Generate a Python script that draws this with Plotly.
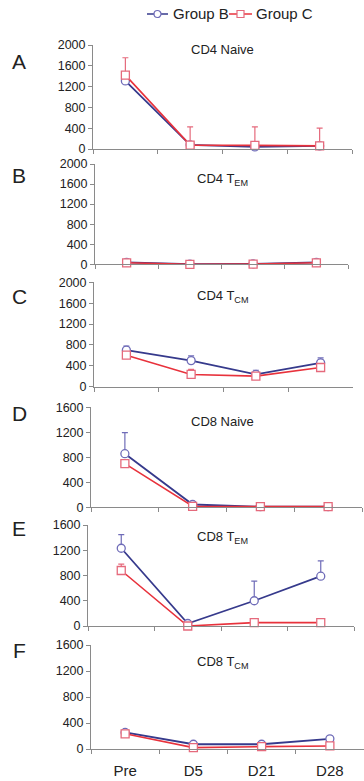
import plotly.graph_objects as go

W, H = 364, 781

categories = ["Pre", "D5", "D21", "D28"]

panel_letters = ["A", "B", "C", "D", "E", "F"]
panel_titles = ["CD4 Naive", "CD4 T<sub>EM</sub>", "CD4 T<sub>CM</sub>",
                "CD8 Naive", "CD8 T<sub>EM</sub>", "CD8 T<sub>CM</sub>"]
y_max = [2000, 2000, 2000, 1600, 1600, 1600]

group_b = [
    [1310, 80, 40, 60],
    [40, 5, 10, 40],
    [700, 500, 235, 457],
    [858, 45, 10, 10],
    [1232, 40, 400, 789],
    [255, 73, 73, 156],
]
group_b_err = [
    [0, 0, 0, 0],
    [0, 0, 0, 0],
    [80, 90, 80, 95],
    [337, 0, 0, 0],
    [215, 0, 310, 242],
    [0, 0, 0, 0],
]
group_c = [
    [1420, 75, 70, 60],
    [30, 0, 5, 30],
    [603, 235, 203, 368],
    [699, 16, 10, 10],
    [879, 0, 53, 53],
    [234, 21, 36, 47],
]
group_c_err = [
    [335, 350, 355, 340],
    [0, 0, 0, 0],
    [0, 95, 0, 0],
    [0, 0, 0, 0],
    [100, 0, 0, 0],
    [0, 0, 0, 0],
]

# layout geometry (pixels): x-left, x-right, y of zero, y of top
geom = [
    (93, 352, 149, 45),
    (95, 348, 264.3, 164),
    (94, 353, 386.7, 282.3),
    (91, 362, 507.3, 407.3),
    (88, 354, 626, 525),
    (91, 364, 749, 645),
]
letter_y = [62, 175, 297, 413, 528, 650]
title_y = [50, 179, 297, 422, 537, 662]

BLUE_LINE = "#363a8c"
BLUE_MK = "#6f6cb8"
RED_LINE = "#e8323c"
RED_MK = "#e56a7c"
AX = "#8a8a8a"
FONT = "Liberation Sans, Arial, sans-serif"

fig = go.Figure()
annotations = []
shapes = []

for i in range(6):
    xa = "x" if i == 0 else f"x{i+1}"
    ya = "y" if i == 0 else f"y{i+1}"
    fig.add_trace(go.Scatter(
        x=categories, y=group_b[i], xaxis=xa, yaxis=ya,
        mode="lines+markers", name="Group B", showlegend=False,
        line=dict(color=BLUE_LINE, width=1.8),
        marker=dict(symbol="circle", size=8, color="white",
                    line=dict(color=BLUE_MK, width=1.3)),
        error_y=dict(type="data", array=group_b_err[i],
                     arrayminus=[0] * 4, symmetric=False,
                     color=BLUE_MK, thickness=1.2, width=3,
                     visible=True),
        cliponaxis=False,
    ))
    fig.add_trace(go.Scatter(
        x=categories, y=group_c[i], xaxis=xa, yaxis=ya,
        mode="lines+markers", name="Group C", showlegend=False,
        line=dict(color=RED_LINE, width=1.6),
        marker=dict(symbol="square", size=8, color="white",
                    line=dict(color=RED_MK, width=1.3)),
        error_y=dict(type="data", array=group_c_err[i],
                     arrayminus=[0] * 4, symmetric=False,
                     color=RED_MK, thickness=1.2, width=3,
                     visible=True),
        cliponaxis=False,
    ))

    x0, x1, yz, yt = geom[i]
    xdom = [x0 / W, x1 / W]
    ydom = [1 - yz / H, 1 - yt / H]
    xkey = "xaxis" if i == 0 else f"xaxis{i+1}"
    ykey = "yaxis" if i == 0 else f"yaxis{i+1}"
    fig.update_layout(**{
        xkey: dict(domain=xdom, anchor=ya, type="category",
                   categoryorder="array", categoryarray=categories,
                   range=[-0.5, 3.5], tickson="boundaries",
                   showline=True, linecolor=AX, linewidth=1,
                   ticks="outside", ticklen=4, tickcolor=AX,
                   showgrid=False, zeroline=False, automargin=False,
                   showticklabels=(i == 5), ticklabelstandoff=8,
                   tickfont=dict(family=FONT, size=15, color="#222")),
        ykey: dict(domain=ydom, anchor=xa, range=[0, y_max[i]],
                   tickmode="linear", tick0=0, dtick=400,
                   showline=True, linecolor=AX, linewidth=1,
                   ticks="outside", ticklen=4, tickcolor=AX,
                   showgrid=False, zeroline=False, automargin=False,
                   tickfont=dict(family=FONT, size=12.5, color="#222")),
    })
    annotations.append(dict(
        text=panel_letters[i], x=19 / W, y=1 - letter_y[i] / H,
        xref="paper", yref="paper", showarrow=False,
        xanchor="center", yanchor="middle",
        font=dict(family=FONT, size=21, color="#222")))
    annotations.append(dict(
        text=panel_titles[i], x=222 / W, y=1 - title_y[i] / H,
        xref="paper", yref="paper", showarrow=False,
        xanchor="center", yanchor="middle",
        font=dict(family=FONT, size=13, color="#222")))

# legend drawn manually at top
leg_y = 1 - 14 / H
shapes.append(dict(type="line", xref="paper", yref="paper",
                   x0=147 / W, x1=168 / W, y0=leg_y, y1=leg_y,
                   line=dict(color=BLUE_LINE, width=1.5)))
shapes.append(dict(type="circle", xref="paper", yref="paper",
                   x0=154 / W, x1=161 / W, y0=leg_y - 3.5 / H, y1=leg_y + 3.5 / H,
                   fillcolor="white", line=dict(color=BLUE_MK, width=1.2)))
shapes.append(dict(type="line", xref="paper", yref="paper",
                   x0=229 / W, x1=252 / W, y0=leg_y, y1=leg_y,
                   line=dict(color=RED_LINE, width=1.5)))
shapes.append(dict(type="rect", xref="paper", yref="paper",
                   x0=237 / W, x1=244 / W, y0=leg_y - 3.5 / H, y1=leg_y + 3.5 / H,
                   fillcolor="white", line=dict(color=RED_MK, width=1.2)))
annotations.append(dict(text="Group B", x=171 / W, y=leg_y, xref="paper",
                        yref="paper", showarrow=False, xanchor="left",
                        yanchor="middle",
                        font=dict(family=FONT, size=15, color="#222")))
annotations.append(dict(text="Group C", x=254 / W, y=leg_y, xref="paper",
                        yref="paper", showarrow=False, xanchor="left",
                        yanchor="middle",
                        font=dict(family=FONT, size=15, color="#222")))

fig.update_layout(
    template="none",
    width=W, height=H,
    margin=dict(l=0, r=0, t=0, b=0, autoexpand=False),
    paper_bgcolor="white", plot_bgcolor="white",
    showlegend=False,
    annotations=annotations, shapes=shapes,
)

fig.write_html("out.html", config={"displayModeBar": False})
